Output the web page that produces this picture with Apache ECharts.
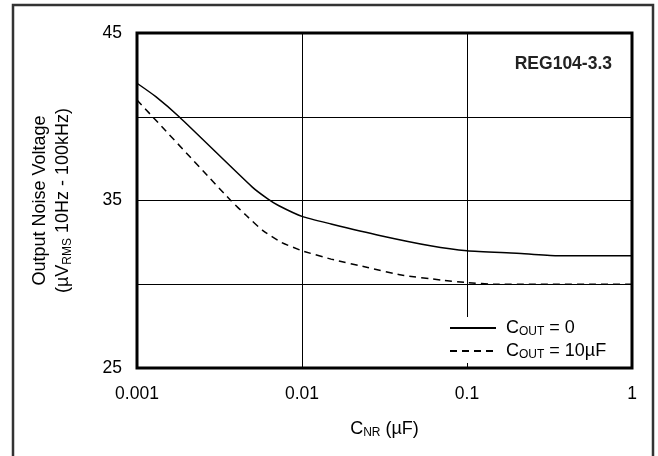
<!DOCTYPE html>
<html>
<head>
<meta charset="utf-8">
<script src="https://cdn.jsdelivr.net/npm/echarts@6/dist/echarts.min.js"></script>
<style>html,body{margin:0;padding:0;background:#fff}#c{width:658px;height:456px}</style>
</head>
<body>
<div id="c"></div>
<script>
var xTickLabels = ['0.001', '0.01', '0.1', '1'];
var yTickLabels = ['25', '35', '45'];
var cnrSolid = [0.001, 0.0013, 0.0018, 0.005, 0.0062, 0.0072, 0.01, 0.015, 0.03, 0.06, 0.1, 0.2, 0.35, 1];
var noiseCout0 = [42.0, 41.2, 40.0, 35.8, 35.1, 34.7, 34.05, 33.6, 32.9, 32.3, 32.0, 31.85, 31.7, 31.7];
var cnrDashed = [0.001, 0.0037, 0.0046, 0.0058, 0.0075, 0.01, 0.015, 0.025, 0.04, 0.07, 0.1, 0.15, 1];
var noiseCout10 = [41.0, 35.0, 34.1, 33.2, 32.5, 32.0, 31.5, 31.0, 30.55, 30.25, 30.1, 30.0, 30.0];

function pairs(xs, ys) { return xs.map(function (x, i) { return [x, ys[i]]; }); }

var FONT = "'Liberation Sans', Arial, sans-serif";
var chart = echarts.init(document.getElementById('c'));
chart.setOption({
  animation: false,
  backgroundColor: '#fff',
  textStyle: { fontFamily: FONT, color: '#000' },
  graphic: [{
    type: 'rect', silent: true, z: -10,
    shape: { x: 13, y: 5, width: 640, height: 500 },
    style: { fill: 'none', stroke: '#333', lineWidth: 2.5 }
  }],
  title: {
    text: 'REG104-3.3', right: 41, top: 50,
    textStyle: { fontFamily: FONT, fontWeight: 'bold', fontSize: 17.5, color: '#222' }
  },
  grid: {
    left: 137, right: 26, top: 33, bottom: 88,
    show: true, borderColor: '#000', borderWidth: 3, backgroundColor: 'transparent'
  },
  legend: {
    orient: 'vertical', left: 443, top: 317,
    backgroundColor: '#fff', padding: [2, 6, 2, 6],
    itemWidth: 46, itemHeight: 14, itemGap: 4,
    itemStyle: { opacity: 0 },
    textStyle: {
      fontFamily: FONT, fontSize: 18, color: '#000', padding: [0, 0, 0, 5],
      rich: {
        n: { fontFamily: FONT, fontSize: 18, color: '#000' },
        s: { fontFamily: FONT, fontSize: 12, color: '#000', padding: [8, 0, 0, 0] }
      }
    },
    formatter: function (name) {
      return name === 'a' ? '{n|C}{s|OUT}{n| = 0}' : '{n|C}{s|OUT}{n| = 10µF}';
    },
    data: ['a', 'b']
  },
  xAxis: {
    type: 'log', logBase: 10, min: 0.001, max: 1,
    axisLine: { show: false },
    axisTick: { show: false },
    splitLine: { show: true, lineStyle: { color: '#000', width: 1 } },
    minorSplitLine: { show: false },
    axisLabel: {
      fontFamily: FONT, fontSize: 17.5, color: '#000', margin: 17,
      formatter: function (v, i) { return xTickLabels[i]; }
    },
    name: '{n|C}{s|NR}{n| (µF)}',
    nameLocation: 'middle', nameGap: 51,
    nameTextStyle: {
      rich: {
        n: { fontFamily: FONT, fontSize: 18, color: '#000' },
        s: { fontFamily: FONT, fontSize: 12, color: '#000', padding: [8, 0, 0, 0] }
      }
    }
  },
  yAxis: {
    type: 'value', min: 25, max: 45, interval: 5,
    axisLine: { show: false },
    axisTick: { show: false },
    splitLine: { show: true, lineStyle: { color: '#000', width: 1 } },
    axisLabel: {
      fontFamily: FONT, fontSize: 17.5, color: '#000', margin: 15,
      formatter: function (v) { var s = String(v); return yTickLabels.indexOf(s) >= 0 ? s : ''; }
    },
    name: '{n|Output Noise Voltage}\n{n|(µV}{s|RMS}{n| 10Hz - 100kHz)}',
    nameLocation: 'middle', nameRotate: 90, nameGap: 62,
    nameTextStyle: {
      lineHeight: 23,
      rich: {
        n: { fontFamily: FONT, fontSize: 18, color: '#000', lineHeight: 23 },
        s: { fontFamily: FONT, fontSize: 12, color: '#000', lineHeight: 23, padding: [8, 0, 0, 0] }
      }
    }
  },
  series: [
    {
      name: 'a', type: 'line', data: pairs(cnrSolid, noiseCout0),
      symbol: 'none', smooth: 0.2,
      lineStyle: { color: '#000', width: 1.5, type: 'solid' },
      itemStyle: { color: '#000' }
    },
    {
      name: 'b', type: 'line', data: pairs(cnrDashed, noiseCout10),
      symbol: 'none', smooth: 0.15,
      lineStyle: { color: '#000', width: 1.5, type: [7, 5] },
      itemStyle: { color: '#000' }
    }
  ]
});
</script>
</body>
</html>
